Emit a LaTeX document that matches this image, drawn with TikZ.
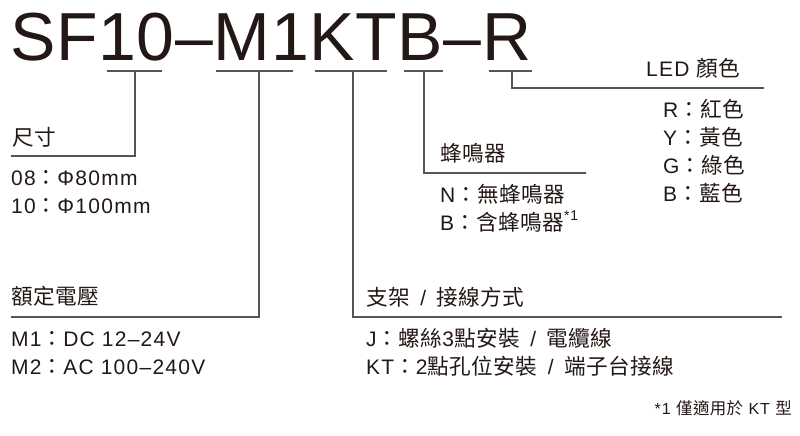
\documentclass[tikz,border=0pt]{standalone}
\usepackage{fontspec}
\setmainfont{Liberation Sans}[LetterSpace=6]
\newfontfamily\titlefont{Liberation Sans}[LetterSpace=1]
\newfontfamily\cjk{Noto Sans CJK TC}[Scale=1.03,LetterSpace=2]
\newcommand\zh[1]{{\cjk #1}}
\newcommand\slashsep{\hspace{0.5em}/\hspace{0.5em}}
\definecolor{ink}{HTML}{231815}
\definecolor{rulegray}{HTML}{555555}

\begin{document}
\begin{tikzpicture}[x=1pt,y=-1pt,
    lbl/.style={anchor=base west,inner sep=0pt,text=ink,font=\fontsize{21}{24}\selectfont},
    lead/.style={draw=rulegray,line width=1.1pt}]
\useasboundingbox (0,0) rectangle (800,436);
% model code
\node[anchor=base west,inner sep=0pt,text=ink,font=\titlefont\fontsize{68}{70}\selectfont] (code) at (10,60) {SF10–M1KTB–R};
\foreach \a/\b in {107/162,216/293,315/387,404/443,489/532}
    \draw[lead] (\a,71) -- (\b,71);
\coordinate (t10) at (135,71);
\coordinate (tM) at (259,71);
\coordinate (tKT) at (353,71);
\coordinate (tB) at (424,71);
\coordinate (tR) at (512,71);
\coordinate (e10) at (11,156);
\coordinate (eM) at (11,317);
\coordinate (eKT) at (782,317);
\coordinate (eB) at (586,173);
\coordinate (eR) at (764,88);
% labels
\node[lbl] (size) at (12,145) {\zh{尺寸}};
\node[lbl] (size08) at (11,185) {08\zh{：}Φ80mm};
\node[lbl] (size10) at (11,213) {10\zh{：}Φ100mm};
\node[lbl] (volt) at (11,304) {\zh{額定電壓}};
\node[lbl] (voltM1) at (11,346) {M1\zh{：}DC 12–24V};
\node[lbl] (voltM2) at (11,374) {M2\zh{：}AC 100–240V};
\node[lbl] (mount) at (366,305) {\zh{支架}\slashsep\zh{接線方式}};
\node[lbl] (mountJ) at (366,346) {J\zh{：螺絲}3\zh{點安裝}\slashsep\zh{電纜線}};
\node[lbl] (mountKT) at (366,374) {KT\zh{：}2\zh{點孔位安裝}\slashsep\zh{端子台接線}};
\node[lbl] (buzz) at (440,161) {\zh{蜂鳴器}};
\node[lbl] (buzzN) at (440,202) {N\zh{：無蜂鳴器}};
\node[lbl] (buzzB) at (440,230) {B\zh{：含蜂鳴器}\raisebox{0.45em}{\fontsize{14}{14}\selectfont *1}};
\node[lbl] (led) at (646,76) {LED \zh{顏色}};
\node[lbl] (ledR) at (663,117) {R\zh{：紅色}};
\node[lbl] (ledY) at (663,145) {Y\zh{：黃色}};
\node[lbl] (ledG) at (663,173) {G\zh{：綠色}};
\node[lbl] (ledB) at (663,201) {B\zh{：藍色}};
\node[lbl,anchor=base east,font=\fontsize{16}{18}\selectfont] (note) at (792,414) {*1 \zh{僅適用於} KT \zh{型}};
% leaders
\draw[lead] (t10) |- (e10);
\draw[lead] (tM) |- (eM);
\draw[lead] (tKT) |- (eKT);
\draw[lead] (tB) |- (eB);
\draw[lead] (tR) |- (eR);
\end{tikzpicture}
\end{document}
